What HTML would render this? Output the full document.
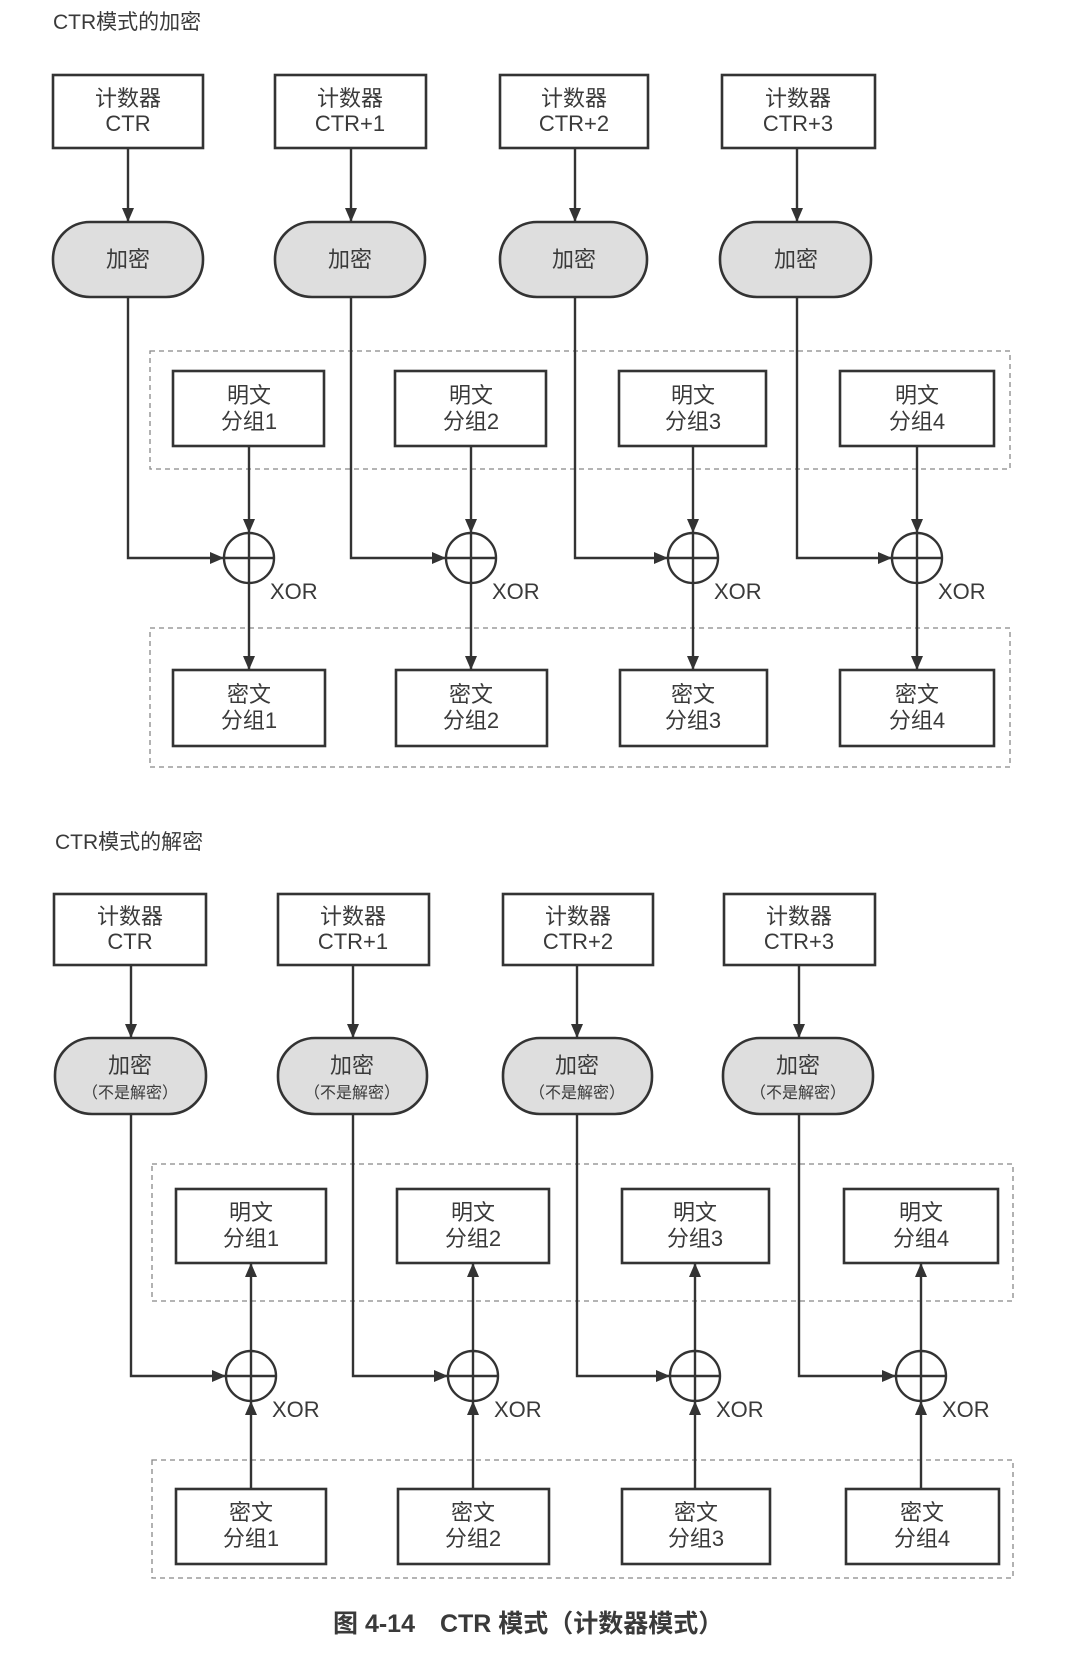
<!DOCTYPE html>
<html><head><meta charset="utf-8"><style>
html,body{margin:0;padding:0;background:#fff;}
svg{display:block;}
text{font-family:"Liberation Sans","Noto Sans CJK SC",sans-serif;fill:#3a3a3a;}
.b{fill:#fff;stroke:#333;stroke-width:2.6;}
.p{fill:#dedede;stroke:#333;stroke-width:2.6;}
.l{stroke:#333;stroke-width:2.4;fill:none;}
.d{fill:none;stroke:#888;stroke-width:1.3;stroke-dasharray:5 4;}
.t{font-size:22px;text-anchor:middle;}
.s{font-size:16px;text-anchor:middle;}
</style></head><body>
<svg width="1080" height="1653" viewBox="0 0 1080 1653" xmlns="http://www.w3.org/2000/svg">
<defs><marker id="a" markerWidth="14" markerHeight="12" refX="13" refY="6" orient="auto" markerUnits="userSpaceOnUse"><path d="M0,0 L14,6 L0,12 z" fill="#333"/></marker></defs>

<text x="53" y="29" font-size="21">CTR模式的加密</text>
<rect class="d" x="150" y="351" width="860" height="118"/>
<rect class="d" x="150" y="628" width="860" height="139"/>

<!-- column 1 top -->
<g>
<rect class="b" x="53" y="75" width="150" height="73"/><text class="t" x="128" y="106">计数器</text><text class="t" x="128" y="131">CTR</text>
<line class="l" x1="128" y1="148" x2="128" y2="221" marker-end="url(#a)"/>
<rect class="p" x="53" y="222" width="150" height="75" rx="37"/><text class="t" x="128" y="267">加密</text>
<polyline class="l" points="128,297 128,558 223,558" marker-end="url(#a)"/>
<rect class="b" x="173" y="371" width="151" height="75"/><text class="t" x="249" y="403">明文</text><text class="t" x="249" y="429">分组1</text>
<line class="l" x1="249" y1="446" x2="249" y2="532" marker-end="url(#a)"/>
<circle class="l" cx="249" cy="558" r="25"/><line class="l" x1="224" y1="558" x2="274" y2="558"/><line class="l" x1="249" y1="533" x2="249" y2="583"/>
<text x="270" y="599" font-size="22">XOR</text>
<line class="l" x1="249" y1="583" x2="249" y2="669" marker-end="url(#a)"/>
<rect class="b" x="173" y="670" width="152" height="76"/><text class="t" x="249" y="702">密文</text><text class="t" x="249" y="728">分组1</text>
</g>
<g>
<rect class="b" x="275" y="75" width="151" height="73"/><text class="t" x="350" y="106">计数器</text><text class="t" x="350" y="131">CTR+1</text>
<line class="l" x1="351" y1="148" x2="351" y2="221" marker-end="url(#a)"/>
<rect class="p" x="275" y="222" width="150" height="75" rx="37"/><text class="t" x="350" y="267">加密</text>
<polyline class="l" points="351,297 351,558 445,558" marker-end="url(#a)"/>
<rect class="b" x="395" y="371" width="151" height="75"/><text class="t" x="471" y="403">明文</text><text class="t" x="471" y="429">分组2</text>
<line class="l" x1="471" y1="446" x2="471" y2="532" marker-end="url(#a)"/>
<circle class="l" cx="471" cy="558" r="25"/><line class="l" x1="446" y1="558" x2="496" y2="558"/><line class="l" x1="471" y1="533" x2="471" y2="583"/>
<text x="492" y="599" font-size="22">XOR</text>
<line class="l" x1="471" y1="583" x2="471" y2="669" marker-end="url(#a)"/>
<rect class="b" x="396" y="670" width="151" height="76"/><text class="t" x="471" y="702">密文</text><text class="t" x="471" y="728">分组2</text>
</g>
<g>
<rect class="b" x="500" y="75" width="148" height="73"/><text class="t" x="574" y="106">计数器</text><text class="t" x="574" y="131">CTR+2</text>
<line class="l" x1="575" y1="148" x2="575" y2="221" marker-end="url(#a)"/>
<rect class="p" x="500" y="222" width="147" height="75" rx="37"/><text class="t" x="574" y="267">加密</text>
<polyline class="l" points="575,297 575,558 667,558" marker-end="url(#a)"/>
<rect class="b" x="619" y="371" width="147" height="75"/><text class="t" x="693" y="403">明文</text><text class="t" x="693" y="429">分组3</text>
<line class="l" x1="693" y1="446" x2="693" y2="532" marker-end="url(#a)"/>
<circle class="l" cx="693" cy="558" r="25"/><line class="l" x1="668" y1="558" x2="718" y2="558"/><line class="l" x1="693" y1="533" x2="693" y2="583"/>
<text x="714" y="599" font-size="22">XOR</text>
<line class="l" x1="693" y1="583" x2="693" y2="669" marker-end="url(#a)"/>
<rect class="b" x="620" y="670" width="147" height="76"/><text class="t" x="693" y="702">密文</text><text class="t" x="693" y="728">分组3</text>
</g>
<g>
<rect class="b" x="722" y="75" width="153" height="73"/><text class="t" x="798" y="106">计数器</text><text class="t" x="798" y="131">CTR+3</text>
<line class="l" x1="797" y1="148" x2="797" y2="221" marker-end="url(#a)"/>
<rect class="p" x="720" y="222" width="151" height="75" rx="37"/><text class="t" x="796" y="267">加密</text>
<polyline class="l" points="797,297 797,558 891,558" marker-end="url(#a)"/>
<rect class="b" x="840" y="371" width="154" height="75"/><text class="t" x="917" y="403">明文</text><text class="t" x="917" y="429">分组4</text>
<line class="l" x1="917" y1="446" x2="917" y2="532" marker-end="url(#a)"/>
<circle class="l" cx="917" cy="558" r="25"/><line class="l" x1="892" y1="558" x2="942" y2="558"/><line class="l" x1="917" y1="533" x2="917" y2="583"/>
<text x="938" y="599" font-size="22">XOR</text>
<line class="l" x1="917" y1="583" x2="917" y2="669" marker-end="url(#a)"/>
<rect class="b" x="840" y="670" width="154" height="76"/><text class="t" x="917" y="702">密文</text><text class="t" x="917" y="728">分组4</text>
</g>

<!-- decryption -->
<text x="55" y="849" font-size="21">CTR模式的解密</text>
<rect class="d" x="152" y="1164" width="861" height="137"/>
<rect class="d" x="152" y="1460" width="861" height="118"/>

<g>
<rect class="b" x="54" y="894" width="152" height="71"/><text class="t" x="130" y="924">计数器</text><text class="t" x="130" y="949">CTR</text>
<line class="l" x1="131" y1="965" x2="131" y2="1037" marker-end="url(#a)"/>
<rect class="p" x="55" y="1038" width="151" height="76" rx="37"/><text class="t" x="130" y="1073">加密</text><text class="s" x="130" y="1098">（不是解密）</text>
<polyline class="l" points="131,1114 131,1376 225,1376" marker-end="url(#a)"/>
<rect class="b" x="176" y="1189" width="150" height="74"/><text class="t" x="251" y="1220">明文</text><text class="t" x="251" y="1246">分组1</text>
<line class="l" x1="251" y1="1351" x2="251" y2="1264" marker-end="url(#a)"/>
<circle class="l" cx="251" cy="1376" r="25"/><line class="l" x1="226" y1="1376" x2="276" y2="1376"/><line class="l" x1="251" y1="1351" x2="251" y2="1401"/>
<text x="272" y="1417" font-size="22">XOR</text>
<line class="l" x1="251" y1="1489" x2="251" y2="1402" marker-end="url(#a)"/>
<rect class="b" x="176" y="1489" width="150" height="75"/><text class="t" x="251" y="1520">密文</text><text class="t" x="251" y="1546">分组1</text>
</g>
<g>
<rect class="b" x="278" y="894" width="151" height="71"/><text class="t" x="353" y="924">计数器</text><text class="t" x="353" y="949">CTR+1</text>
<line class="l" x1="353" y1="965" x2="353" y2="1037" marker-end="url(#a)"/>
<rect class="p" x="278" y="1038" width="149" height="76" rx="37"/><text class="t" x="352" y="1073">加密</text><text class="s" x="352" y="1098">（不是解密）</text>
<polyline class="l" points="353,1114 353,1376 447,1376" marker-end="url(#a)"/>
<rect class="b" x="397" y="1189" width="152" height="74"/><text class="t" x="473" y="1220">明文</text><text class="t" x="473" y="1246">分组2</text>
<line class="l" x1="473" y1="1351" x2="473" y2="1264" marker-end="url(#a)"/>
<circle class="l" cx="473" cy="1376" r="25"/><line class="l" x1="448" y1="1376" x2="498" y2="1376"/><line class="l" x1="473" y1="1351" x2="473" y2="1401"/>
<text x="494" y="1417" font-size="22">XOR</text>
<line class="l" x1="473" y1="1489" x2="473" y2="1402" marker-end="url(#a)"/>
<rect class="b" x="398" y="1489" width="151" height="75"/><text class="t" x="473" y="1520">密文</text><text class="t" x="473" y="1546">分组2</text>
</g>
<g>
<rect class="b" x="503" y="894" width="150" height="71"/><text class="t" x="578" y="924">计数器</text><text class="t" x="578" y="949">CTR+2</text>
<line class="l" x1="577" y1="965" x2="577" y2="1037" marker-end="url(#a)"/>
<rect class="p" x="503" y="1038" width="149" height="76" rx="37"/><text class="t" x="577" y="1073">加密</text><text class="s" x="577" y="1098">（不是解密）</text>
<polyline class="l" points="577,1114 577,1376 669,1376" marker-end="url(#a)"/>
<rect class="b" x="622" y="1189" width="147" height="74"/><text class="t" x="695" y="1220">明文</text><text class="t" x="695" y="1246">分组3</text>
<line class="l" x1="695" y1="1351" x2="695" y2="1264" marker-end="url(#a)"/>
<circle class="l" cx="695" cy="1376" r="25"/><line class="l" x1="670" y1="1376" x2="720" y2="1376"/><line class="l" x1="695" y1="1351" x2="695" y2="1401"/>
<text x="716" y="1417" font-size="22">XOR</text>
<line class="l" x1="695" y1="1489" x2="695" y2="1402" marker-end="url(#a)"/>
<rect class="b" x="622" y="1489" width="148" height="75"/><text class="t" x="696" y="1520">密文</text><text class="t" x="696" y="1546">分组3</text>
</g>
<g>
<rect class="b" x="724" y="894" width="151" height="71"/><text class="t" x="799" y="924">计数器</text><text class="t" x="799" y="949">CTR+3</text>
<line class="l" x1="799" y1="965" x2="799" y2="1037" marker-end="url(#a)"/>
<rect class="p" x="723" y="1038" width="150" height="76" rx="37"/><text class="t" x="798" y="1073">加密</text><text class="s" x="798" y="1098">（不是解密）</text>
<polyline class="l" points="799,1114 799,1376 895,1376" marker-end="url(#a)"/>
<rect class="b" x="844" y="1189" width="154" height="74"/><text class="t" x="921" y="1220">明文</text><text class="t" x="921" y="1246">分组4</text>
<line class="l" x1="921" y1="1351" x2="921" y2="1264" marker-end="url(#a)"/>
<circle class="l" cx="921" cy="1376" r="25"/><line class="l" x1="896" y1="1376" x2="946" y2="1376"/><line class="l" x1="921" y1="1351" x2="921" y2="1401"/>
<text x="942" y="1417" font-size="22">XOR</text>
<line class="l" x1="921" y1="1489" x2="921" y2="1402" marker-end="url(#a)"/>
<rect class="b" x="846" y="1489" width="153" height="75"/><text class="t" x="922" y="1520">密文</text><text class="t" x="922" y="1546">分组4</text>
</g>

<text x="333" y="1632" font-size="25" font-weight="bold">图 4-14　CTR 模式（计数器模式）</text>
</svg>
</body></html>
